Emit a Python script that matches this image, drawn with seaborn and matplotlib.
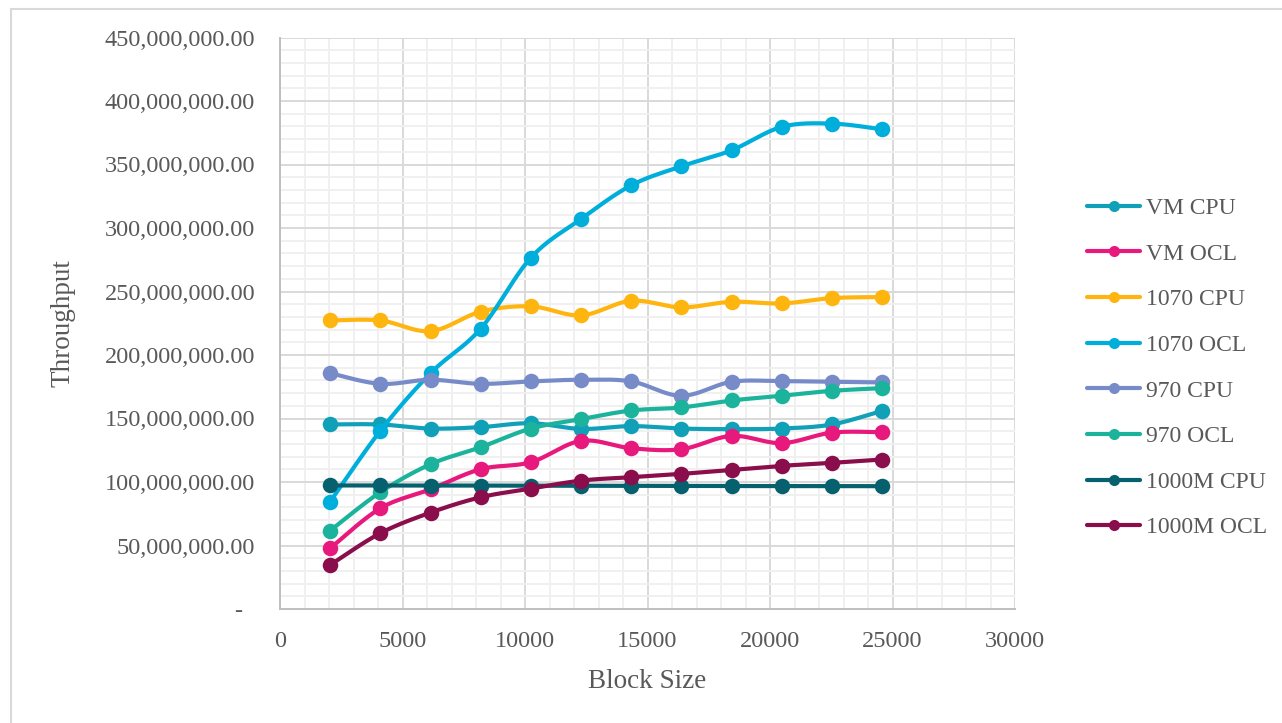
import numpy as np
import pandas as pd
import matplotlib
matplotlib.use("Agg")
import matplotlib.pyplot as plt
from matplotlib.lines import Line2D
from matplotlib.patches import Rectangle
from matplotlib.ticker import FuncFormatter, MultipleLocator
import seaborn as sns

# Block sizes used in the benchmark
block_sizes = [2048, 4096, 6144, 8192, 10240, 12288, 14336, 16384, 18432, 20480, 22528, 24576]

# Throughput per configuration
vm_cpu = [145.3e6, 145.3e6, 142.1e6, 143.2e6, 146.3e6, 141.8e6, 144.0e6, 142.1e6, 141.6e6, 142.1e6, 145.3e6, 156.0e6]
vm_ocl = [47.8e6, 79.3e6, 94.3e6, 110.1e6, 115.6e6, 132.4e6, 126.6e6, 125.8e6, 136.3e6, 130.6e6, 138.9e6, 139.2e6]
gtx1070_cpu = [227.2e6, 227.2e6, 218.8e6, 234.1e6, 238.3e6, 231.2e6, 242.7e6, 237.5e6, 241.9e6, 240.6e6, 244.8e6, 245.6e6]
gtx1070_ocl = [84.6e6, 140.3e6, 185.7e6, 220.7e6, 276.6e6, 307.1e6, 333.6e6, 348.6e6, 361.2e6, 379.6e6, 382.2e6, 377.7e6]
gtx970_cpu = [185.7e6, 177.3e6, 180.5e6, 177.3e6, 179.2e6, 180.5e6, 179.2e6, 167.9e6, 178.9e6, 179.4e6, 178.9e6, 178.4e6]
gtx970_ocl = [61.7e6, 92.0e6, 114.0e6, 127.4e6, 142.1e6, 149.5e6, 156.3e6, 158.7e6, 164.2e6, 167.9e6, 171.8e6, 173.9e6]
m1000_cpu = [97.3e6, 97.3e6, 97.2e6, 97.2e6, 97.1e6, 97.0e6, 97.0e6, 96.9e6, 96.8e6, 96.8e6, 96.8e6, 96.7e6]
m1000_ocl = [34.7e6, 59.7e6, 75.9e6, 88.0e6, 94.8e6, 101.1e6, 103.8e6, 106.4e6, 109.5e6, 112.7e6, 115.1e6, 117.7e6]

series_names = ["VM CPU", "VM OCL", "1070 CPU", "1070 OCL", "970 CPU", "970 OCL", "1000M CPU", "1000M OCL"]
series_values = [vm_cpu, vm_ocl, gtx1070_cpu, gtx1070_ocl, gtx970_cpu, gtx970_ocl, m1000_cpu, m1000_ocl]
series_colors = ["#10a1b9", "#e8197d", "#ffb50f", "#00aedb", "#778bc9", "#1bb39c", "#06606e", "#8a0e4b"]

x_ticks = [0, 5000, 10000, 15000, 20000, 25000, 30000]

frames = []
for name, vals in zip(series_names, series_values):
    frames.append(pd.DataFrame({"Block Size": block_sizes, "Throughput": vals, "Series": name}))
df = pd.concat(frames, ignore_index=True)


def smooth_curve(x, y, steps=24):
    """Catmull-Rom style Bezier smoothing through every data point."""
    pts = np.column_stack([x, y]).astype(float)
    n = len(pts)
    out = [pts[0]]
    t = np.linspace(0, 1, steps + 1)[1:][:, None]
    for i in range(n - 1):
        p0 = pts[i - 1] if i > 0 else pts[i]
        p1 = pts[i]
        p2 = pts[i + 1]
        p3 = pts[i + 2] if i + 2 < n else pts[i + 1]
        c1 = p1 + (p2 - p0) / 6.0
        c2 = p2 - (p3 - p1) / 6.0
        seg = ((1 - t) ** 3) * p1 + 3 * ((1 - t) ** 2) * t * c1 + 3 * (1 - t) * t ** 2 * c2 + t ** 3 * p2
        out.extend(seg)
    out = np.array(out)
    return out[:, 0], out[:, 1]


sns.set_theme(style="white")
serif = ["Liberation Serif", "DejaVu Serif"]
plt.rcParams["font.family"] = serif

W, H = 1282, 723
fig = plt.figure(figsize=(W / 100, H / 100), dpi=100)
ax = fig.add_axes([280 / W, 1 - 609 / H, (1015 - 280) / W, (609 - 37.5) / H])

text_gray = "#595959"
major_grid = "#d9d9d9"
minor_grid = "#f0f0f0"

palette = dict(zip(series_names, series_colors))
for z, name in enumerate(series_names):
    sub = df[df["Series"] == name]
    sx, sy = smooth_curve(sub["Block Size"].values, sub["Throughput"].values)
    ax.plot(sx, sy, color=palette[name], lw=3.0, solid_capstyle="round", zorder=3 + 2 * z)
    sns.scatterplot(data=sub, x="Block Size", y="Throughput", color=palette[name], s=125,
                    linewidth=0, ax=ax, legend=False, zorder=4 + 2 * z)

ax.set_xlim(0, 30000)
ax.set_ylim(0, 450e6)
ax.set_xticks(x_ticks)
ax.xaxis.set_major_formatter(FuncFormatter(lambda v, p: f"{int(v)}"))
ax.xaxis.set_minor_locator(MultipleLocator(1000))
ax.yaxis.set_major_locator(MultipleLocator(50e6))
ax.yaxis.set_minor_locator(MultipleLocator(10e6))
ax.yaxis.set_major_formatter(FuncFormatter(lambda v, p: "-  " if abs(v) < 1 else f"{v:,.2f}"))

ax.grid(which="minor", color=minor_grid, lw=1.4, zorder=0)
ax.grid(which="major", color=major_grid, lw=1.4, zorder=1)
ax.set_axisbelow(True)

for side in ["top", "right"]:
    ax.spines[side].set_visible(False)
for side in ["left", "bottom"]:
    ax.spines[side].set_color("#bfbfbf")
    ax.spines[side].set_linewidth(1.4)

ax.tick_params(axis="both", which="major", direction="out", length=6, width=1.2,
               color="#bfbfbf", labelcolor=text_gray, labelsize=17.5)
ax.tick_params(axis="y", which="major", pad=12)
ax.tick_params(axis="x", which="major", pad=10)
ax.tick_params(which="minor", length=0)

ax.set_xlabel("Block Size", fontsize=19.5, color=text_gray, labelpad=12)
ax.set_ylabel("Throughput", fontsize=19.5, color=text_gray, labelpad=21)

handles = [Line2D([0], [0], color=c, lw=3, marker="o", markersize=8, markeredgewidth=0)
           for c in series_colors]
leg = fig.legend(handles, series_names, loc="center left", bbox_to_anchor=(1087 / W, 1 - 368 / H),
                 frameon=False, fontsize=17, labelcolor=text_gray, handlelength=2.25,
                 handletextpad=0.25, labelspacing=1.02, borderpad=0, borderaxespad=0)

# chart area outline
fig.patches.append(Rectangle((11 / W, -0.2), 2.0, 1.2 - 9 / H, transform=fig.transFigure,
                             fill=False, edgecolor="#d9d9d9", lw=1.5, zorder=0))

fig.savefig("out.png", dpi=100)
